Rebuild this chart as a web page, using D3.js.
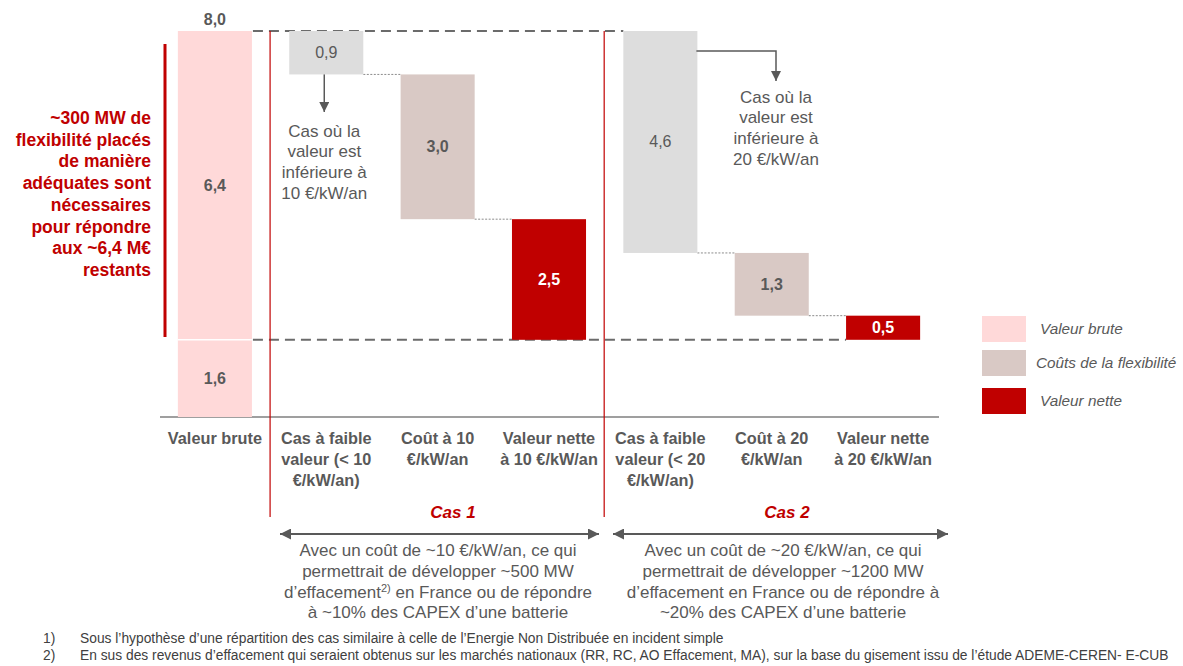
<!DOCTYPE html>
<html lang="fr">
<head>
<meta charset="utf-8">
<script src="https://cdn.jsdelivr.net/npm/d3@7"></script>
<style>
  html, body { margin: 0; padding: 0; background: #fff; }
  svg { display: block; font-family: "Liberation Sans", Arial, sans-serif; }
</style>
</head>
<body>
<svg id="chart" width="1183" height="666"></svg>
<script>
// ---- data ----
const categoryKeys = ["brut", "faible10", "cout10", "net10", "faible20", "cout20", "net20"];
const categoryLabels = [
  ["Valeur brute"],
  ["Cas à faible", "valeur (< 10", "€/kW/an)"],
  ["Coût à 10", "€/kW/an"],
  ["Valeur nette", "à 10 €/kW/an"],
  ["Cas à faible", "valeur (< 20", "€/kW/an)"],
  ["Coût à 20", "€/kW/an"],
  ["Valeur nette", "à 20 €/kW/an"]
];
// gross value split: part covered already, and remaining part
const grossParts = [1.6, 6.4];
const grossTotal = 8.0;
// each case: low-value cases removed, flexibility cost, net value
const case1Values = [0.9, 3.0, 2.5];
const case2Values = [4.6, 1.3, 0.5];
const stepKinds = ["faible", "cout", "net"];
const valueLabels = ["1,6", "6,4", "8,0", "0,9", "3,0", "2,5", "4,6", "1,3", "0,5"];
const legendLabels = ["Valeur brute", "Coûts de la flexibilité", "Valeur nette"];
const caseTitles = ["Cas 1", "Cas 2"];
const caseTexts = [
  ["Avec un coût de ~10 €/kW/an, ce qui", "permettrait de développer ~500 MW", "d’effacement|2)| en France ou de répondre", "à ~10% des CAPEX d’une batterie"],
  ["Avec un coût de ~20 €/kW/an, ce qui", "permettrait de développer ~1200 MW", "d’effacement en France ou de répondre à", "~20% des CAPEX d’une batterie"]
];
const noteTexts = [
  ["Cas où la", "valeur est", "inférieure à", "10 €/kW/an"],
  ["Cas où la", "valeur est", "inférieure à", "20 €/kW/an"]
];
const sideText = ["~300 MW de", "flexibilité placés", "de manière", "adéquates sont", "nécessaires", "pour répondre", "aux ~6,4 M€", "restants"];
const footnotes = [
  ["1)", "Sous l’hypothèse d’une répartition des cas similaire à celle de l’Energie Non Distribuée en incident simple"],
  ["2)", "En sus des revenus d’effacement qui seraient obtenus sur les marchés nationaux (RR, RC, AO Effacement, MA), sur la base du gisement issu de l’étude ADEME-CEREN- E-CUB"]
];

// ---- styles ----
const RED = "#c00000";
const TEXT = "#595959";
const colors = { brut: "#ffd9d9", faible: "#dddddd", cout: "#d9c9c5", net: "#c00000" };

const svg = d3.select("#chart");

// ---- scales ----
const x = d3.scaleBand().domain(categoryKeys).range([159.5, 938.5]).paddingInner(0.335).paddingOuter(0.165);
const y = d3.scaleLinear().domain([0, grossTotal]).range([417, 31]);
const bw = x.bandwidth();

// ---- waterfall geometry ----
function buildCase(values, keys) {
  let top = grossTotal;
  return values.map((v, i) => {
    const kind = stepKinds[i];
    let y0, y1;
    if (kind === "net") { y0 = grossParts[0]; y1 = grossParts[0] + v; }
    else { y1 = top; y0 = top - v; top = y0; }
    return { key: keys[i], kind, v, y0, y1 };
  });
}
const case1 = buildCase(case1Values, categoryKeys.slice(1, 4));
const case2 = buildCase(case2Values, categoryKeys.slice(4, 7));

// dashed reference lines at gross total and at the covered part
svg.append("line")
  .attr("x1", x("brut") + bw + 1).attr("x2", x("faible20"))
  .attr("y1", y(grossTotal)).attr("y2", y(grossTotal))
  .attr("stroke", "#6b6b6b").attr("stroke-width", 2).attr("stroke-dasharray", "10,6");
svg.append("line")
  .attr("x1", x("brut") + bw + 1).attr("x2", x("net20"))
  .attr("y1", y(grossParts[0])).attr("y2", y(grossParts[0]))
  .attr("stroke", "#6b6b6b").attr("stroke-width", 2).attr("stroke-dasharray", "10,6");

// axis baseline
svg.append("line")
  .attr("x1", 160).attr("x2", 939).attr("y1", y(0)).attr("y2", y(0))
  .attr("stroke", "#7f7f7f").attr("stroke-width", 1.5);

// gross value bar (two stacked parts separated by a thin white gap)
const grossStack = [
  { y0: 0, y1: grossParts[0], label: valueLabels[0] },
  { y0: grossParts[0], y1: grossTotal, label: valueLabels[1] }
];
svg.selectAll("rect.gross").data(grossStack).enter().append("rect")
  .attr("class", "gross")
  .attr("x", x("brut")).attr("width", bw)
  .attr("y", d => y(d.y1)).attr("height", d => y(d.y0) - y(d.y1))
  .attr("fill", colors.brut);
svg.append("line")
  .attr("x1", x("brut")).attr("x2", x("brut") + bw)
  .attr("y1", y(grossParts[0])).attr("y2", y(grossParts[0]))
  .attr("stroke", "#fff").attr("stroke-width", 1.5);
svg.selectAll("text.gross").data(grossStack).enter().append("text")
  .attr("x", x("brut") + bw / 2).attr("y", d => (y(d.y0) + y(d.y1)) / 2)
  .attr("text-anchor", "middle").attr("dominant-baseline", "central")
  .attr("font-size", 16).attr("font-weight", "bold").attr("fill", TEXT)
  .text(d => d.label);
svg.append("text")
  .attr("x", x("brut") + bw / 2).attr("y", y(grossTotal) - 12)
  .attr("text-anchor", "middle").attr("dominant-baseline", "central")
  .attr("font-size", 16).attr("font-weight", "bold").attr("fill", TEXT)
  .text(valueLabels[2]);

// dotted connectors between consecutive steps
function connectors(steps) {
  for (let i = 0; i < steps.length - 1; i++) {
    const a = steps[i], b = steps[i + 1];
    const yy = y(a.y0);
    svg.append("line")
      .attr("x1", x(a.key) + bw).attr("x2", x(b.key))
      .attr("y1", yy).attr("y2", yy)
      .attr("stroke", "#8c8c8c").attr("stroke-width", 1).attr("stroke-dasharray", "2,1.5");
  }
}
connectors(case1);
connectors(case2);

// waterfall bars
const allSteps = case1.concat(case2);
const stepLabels = valueLabels.slice(3);
allSteps.forEach((d, i) => {
  svg.append("rect")
    .attr("x", x(d.key)).attr("width", bw)
    .attr("y", y(d.y1)).attr("height", y(d.y0) - y(d.y1))
    .attr("fill", colors[d.kind]);
  svg.append("text")
    .attr("x", x(d.key) + bw / 2).attr("y", (y(d.y0) + y(d.y1)) / 2)
    .attr("text-anchor", "middle").attr("dominant-baseline", "central")
    .attr("font-size", 16)
    .attr("font-weight", d.kind === "faible" ? "normal" : "bold")
    .attr("fill", d.kind === "net" ? "#fff" : TEXT)
    .text(stepLabels[i]);
});

// case separators
[x("faible10") - (x.step() - bw) / 2 - 0.5, x("faible20") - (x.step() - bw) / 2 - 0.5].forEach(xx => {
  svg.append("line")
    .attr("x1", xx).attr("x2", xx).attr("y1", 31).attr("y2", 517)
    .attr("stroke", RED).attr("stroke-width", 1.2);
});

// arrow markers
const defs = svg.append("defs");
defs.append("marker").attr("id", "tri").attr("viewBox", "0 0 10 10")
  .attr("refX", 10).attr("refY", 5).attr("markerWidth", 10).attr("markerHeight", 10)
  .attr("markerUnits", "userSpaceOnUse").attr("orient", "auto")
  .append("path").attr("d", "M0,0L10,5L0,10Z").attr("fill", "#595959");
defs.append("marker").attr("id", "triStart").attr("viewBox", "0 0 10 10")
  .attr("refX", 0).attr("refY", 5).attr("markerWidth", 11).attr("markerHeight", 11)
  .attr("markerUnits", "userSpaceOnUse").attr("orient", "auto")
  .append("path").attr("d", "M10,0L0,5L10,10Z").attr("fill", "#595959");
defs.append("marker").attr("id", "triEnd").attr("viewBox", "0 0 10 10")
  .attr("refX", 10).attr("refY", 5).attr("markerWidth", 11).attr("markerHeight", 11)
  .attr("markerUnits", "userSpaceOnUse").attr("orient", "auto")
  .append("path").attr("d", "M0,0L10,5L0,10Z").attr("fill", "#595959");

// annotation 1: arrow down from the low-value bar of case 1
const c1 = case1[0];
const ax1 = x(c1.key) + bw / 2 - 2;
svg.append("line")
  .attr("x1", ax1).attr("x2", ax1).attr("y1", y(c1.y0)).attr("y2", 112)
  .attr("stroke", "#595959").attr("stroke-width", 1.5).attr("marker-end", "url(#tri)");
function multiline(lines, cx, y0, lh, size, attrs) {
  const t = svg.append("text").attr("text-anchor", "middle").attr("font-size", size).attr("fill", TEXT);
  Object.entries(attrs || {}).forEach(([k, v]) => t.attr(k, v));
  lines.forEach((ln, i) => {
    t.append("tspan").attr("x", cx).attr("y", y0 + i * lh).attr("dominant-baseline", "central").text(ln);
  });
  return t;
}
multiline(noteTexts[0], ax1, 131, 20.7, 17);

// annotation 2: elbow arrow from the low-value bar of case 2
const c2 = case2[0];
const ex = 776;
svg.append("path")
  .attr("d", `M${x(c2.key) + bw - 1},51H${ex}V81`)
  .attr("fill", "none").attr("stroke", "#595959").attr("stroke-width", 1.5)
  .attr("marker-end", "url(#tri)");
multiline(noteTexts[1], ex, 97, 20.7, 17);

// category labels
categoryKeys.forEach((k, i) => {
  multiline(categoryLabels[i], x(k) + bw / 2, 438, 20.8, 16.3, { "font-weight": "bold" });
});

// case titles, span arrows and descriptions
const caseSpans = [[280, 599], [613, 948]];
const titleX = [453, 787];
const textX = [438, 783];
caseSpans.forEach((s, i) => {
  svg.append("text").attr("x", titleX[i]).attr("y", 512)
    .attr("text-anchor", "middle").attr("dominant-baseline", "central")
    .attr("font-size", 17).attr("font-weight", "bold").attr("font-style", "italic")
    .attr("fill", RED).text(caseTitles[i]);
  svg.append("line")
    .attr("x1", s[0]).attr("x2", s[1]).attr("y1", 534).attr("y2", 534)
    .attr("stroke", "#595959").attr("stroke-width", 2)
    .attr("marker-start", "url(#triStart)").attr("marker-end", "url(#triEnd)");
  caseTexts[i].forEach((ln, j) => {
    // alphabetic baseline: line centre + ~6px
    const t = svg.append("text").attr("text-anchor", "middle").attr("font-size", 17).attr("fill", TEXT)
      .attr("x", textX[i]).attr("y", 550 + j * 20.8 + 6);
    const parts = ln.split("|");
    if (parts.length === 1) { t.text(ln); }
    else {
      t.append("tspan").text(parts[0]);
      t.append("tspan").attr("font-size", 11).attr("dy", -6).text(parts[1]);
      t.append("tspan").attr("dy", 6).text(parts[2]);
    }
  });
});

// left bracket with explanatory text
svg.append("line").attr("x1", 165).attr("x2", 165).attr("y1", 44).attr("y2", 337)
  .attr("stroke", RED).attr("stroke-width", 3);
const side = svg.append("text").attr("text-anchor", "end").attr("font-size", 17.5)
  .attr("font-weight", "bold").attr("fill", RED);
sideText.forEach((ln, i) => {
  side.append("tspan").attr("x", 151).attr("y", 118 + i * 21.7).attr("dominant-baseline", "central").text(ln);
});

// legend
const legendKinds = ["brut", "cout", "net"];
const legendY = [316, 350, 388];
legendKinds.forEach((k, i) => {
  svg.append("rect").attr("x", 982).attr("y", legendY[i]).attr("width", 44).attr("height", 26)
    .attr("fill", colors[k]);
  svg.append("text").attr("x", i === 1 ? 1036 : 1040).attr("y", legendY[i] + 12)
    .attr("dominant-baseline", "central").attr("font-size", 15.3).attr("font-style", "italic")
    .attr("fill", TEXT).text(legendLabels[i]);
});

// footnotes
footnotes.forEach((f, i) => {
  const yy = 638 + i * 17;
  svg.append("text").attr("x", 43).attr("y", yy).attr("dominant-baseline", "central")
    .attr("font-size", 13.8).attr("fill", "#404040").text(f[0]);
  svg.append("text").attr("x", 80).attr("y", yy).attr("dominant-baseline", "central")
    .attr("font-size", 13.8).attr("fill", "#404040").text(f[1]);
});
</script>
</body>
</html>
